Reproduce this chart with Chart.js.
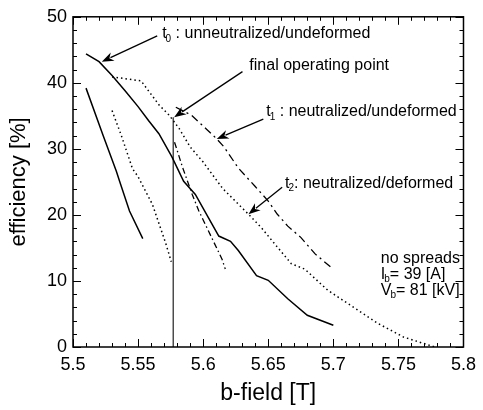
<!DOCTYPE html>
<html><head><meta charset="utf-8">
<script src="https://cdn.jsdelivr.net/npm/chart.js@4.4.1/dist/chart.umd.min.js"></script>
<style>html,body{margin:0;padding:0;background:#fff}#wrap{width:483px;height:410px;position:relative}</style>
</head><body><div id="wrap"><canvas id="c" width="483" height="410"></canvas></div>
<script>
// ---- data ----
const xTickValues = [5.5, 5.55, 5.6, 5.65, 5.7, 5.75, 5.8];
const xTickLabels = ['5.5', '5.55', '5.6', '5.65', '5.7', '5.75', '5.8'];
const yTickValues = [0, 10, 20, 30, 40, 50];
const yTickLabels = ['0', '10', '20', '30', '40', '50'];

// t0 : unneutralized/undeformed (solid, long)
const t0B   = [5.51, 5.52, 5.53, 5.54, 5.55, 5.558, 5.566, 5.576, 5.585, 5.594, 5.604, 5.612, 5.621, 5.627, 5.641, 5.65, 5.665, 5.68, 5.7];
const t0Eff = [44.4, 43.2, 41.1, 38.8, 36.4, 34.3, 32.3, 28.8, 25.1, 23.1, 19.6, 16.8, 16.0, 14.6, 10.8, 10.1, 7.3, 4.8, 3.3];

// t1 : neutralized/undeformed (dash-dot)
const t1B   = [5.579, 5.591, 5.603, 5.610, 5.616, 5.627, 5.64, 5.65, 5.657, 5.665, 5.675, 5.686, 5.698];
const t1Eff = [36.3, 35.1, 32.9, 31.6, 30.3, 27.1, 24.3, 22.1, 20.1, 18.3, 16.6, 14.1, 12.1];

// t2 : neutralized/deformed (dotted, long)
const t2B   = [5.530, 5.5523, 5.5663, 5.5739, 5.5815, 5.59, 5.60, 5.615, 5.6348, 5.645, 5.655, 5.6678, 5.678, 5.6957, 5.711, 5.734, 5.754, 5.778];
const t2Eff = [40.9, 40.3, 36.6, 35.1, 33.1, 30.3, 28.0, 24.0, 20.1, 18.0, 15.6, 12.6, 11.8, 8.6, 6.6, 3.6, 1.5, 0.0];

// short curves
const solidShortB    = [5.51, 5.523, 5.5333, 5.5358, 5.5434, 5.5536];
const solidShortEff  = [39.2, 32.1, 26.6, 25.1, 20.6, 16.4];
const dottedShortB   = [5.530, 5.537, 5.5457, 5.55, 5.561, 5.5714, 5.5755];
const dottedShortEff = [35.8, 32.1, 27.0, 25.8, 21.6, 15.6, 12.9];
const dashShortB     = [5.578, 5.580, 5.584, 5.5916, 5.5967, 5.604, 5.6145, 5.617];
const dashShortEff   = [31.0, 29.8, 27.3, 23.1, 20.6, 17.6, 13.3, 11.8];

// final operating point (vertical line)
const opB   = [5.577, 5.577];
const opEff = [0, 34.8];

const pts = (xs, ys) => xs.map((x, i) => ({x, y: ys[i]}));

// annotations in data coordinates
const annotations = [
  {parts: [['t'], ['0', 1], [' : unneutralized/undeformed']], at: [5.5685, 47.4], from: [5.5647, 47.1], to: [5.5221, 43.2]},
  {parts: [['final operating point']], at: [5.6355, 42.6], from: [5.6302, 41.7], to: [5.5777, 34.8]},
  {parts: [['t'], ['1', 1], [' : neutralized/undeformed']], at: [5.6485, 35.6], from: [5.6462, 34.5], to: [5.6104, 31.5]},
  {parts: [['t'], ['2', 1], [': neutralized/deformed']], at: [5.6629, 24.8], from: [5.6607, 24.2], to: [5.6348, 20.1]},
  {parts: [['no spreads']], at: [5.7365, 13.4]},
  {parts: [['I'], ['b', 1], ['= 39 [A]']], at: [5.7365, 11.0]},
  {parts: [['V'], ['b', 1], ['= 81 [kV]']], at: [5.7365, 8.6]}
];

const FONT = '"Liberation Sans", Arial, Helvetica, sans-serif';

const framePlugin = {
  id: 'frame',
  afterDatasetsDraw(chart) {
    const {ctx, chartArea: a, scales: {x, y}} = chart;
    ctx.save();
    ctx.strokeStyle = '#000';
    ctx.lineWidth = 1.5;
    ctx.strokeRect(a.left, a.top, a.right - a.left, a.bottom - a.top);
    ctx.lineWidth = 1;
    // x ticks (inward, bottom and top)
    for (let i = 0; i <= 30; i++) {
      const v = 5.5 + i * 0.01;
      const px = Math.round(x.getPixelForValue(v)) + 0.5;
      const len = i % 5 === 0 ? 8 : 4;
      ctx.beginPath();
      ctx.moveTo(px, a.bottom); ctx.lineTo(px, a.bottom - len);
      ctx.moveTo(px, a.top); ctx.lineTo(px, a.top + len);
      ctx.stroke();
    }
    // y ticks (inward, left and right)
    for (let i = 0; i <= 25; i++) {
      const v = i * 2;
      const py = Math.round(y.getPixelForValue(v)) + 0.5;
      const len = i % 5 === 0 ? 8 : 4;
      ctx.beginPath();
      ctx.moveTo(a.left, py); ctx.lineTo(a.left + len, py);
      ctx.moveTo(a.right, py); ctx.lineTo(a.right - len, py);
      ctx.stroke();
    }
    // annotations
    ctx.fillStyle = '#000';
    ctx.textBaseline = 'middle';
    ctx.textAlign = 'left';
    for (const an of annotations) {
      let px = x.getPixelForValue(an.at[0]);
      const py = y.getPixelForValue(an.at[1]);
      for (const [t, sub] of an.parts) {
        if (sub) {
          ctx.font = '10px ' + FONT;
          ctx.fillText(t, px - 1, py + 5);
          px += ctx.measureText(t).width - 1;
        } else {
          ctx.font = '16px ' + FONT;
          ctx.fillText(t, px, py);
          px += ctx.measureText(t).width;
        }
      }
      if (an.from) {
        const x0 = x.getPixelForValue(an.from[0]), y0 = y.getPixelForValue(an.from[1]);
        const x1 = x.getPixelForValue(an.to[0]), y1 = y.getPixelForValue(an.to[1]);
        const ang = Math.atan2(y1 - y0, x1 - x0);
        const hl = 12, hw = 4.5;
        ctx.lineWidth = 1.3;
        ctx.beginPath();
        ctx.moveTo(x0, y0);
        ctx.lineTo(x1 - Math.cos(ang) * hl * 0.8, y1 - Math.sin(ang) * hl * 0.8);
        ctx.stroke();
        ctx.beginPath();
        ctx.moveTo(x1, y1);
        ctx.lineTo(x1 - Math.cos(ang) * hl - Math.sin(ang) * hw, y1 - Math.sin(ang) * hl + Math.cos(ang) * hw);
        ctx.lineTo(x1 - Math.cos(ang) * hl * 0.7, y1 - Math.sin(ang) * hl * 0.7);
        ctx.lineTo(x1 - Math.cos(ang) * hl + Math.sin(ang) * hw, y1 - Math.sin(ang) * hl - Math.cos(ang) * hw);
        ctx.closePath();
        ctx.fill();
      }
    }
    ctx.restore();
  }
};

const base = {borderColor: '#000', pointRadius: 0, tension: 0, fill: false, borderWidth: 1.5};

new Chart(document.getElementById('c'), {
  type: 'line',
  data: {
    datasets: [
      {...base, label: 't0', data: pts(t0B, t0Eff)},
      {...base, label: 't1', data: pts(t1B, t1Eff), borderDash: [8, 4, 2, 4], borderWidth: 1.3},
      {...base, label: 't2', data: pts(t2B, t2Eff), borderDash: [1.5, 3], borderWidth: 1.5},
      {...base, label: 'solid short', data: pts(solidShortB, solidShortEff)},
      {...base, label: 'dotted short', data: pts(dottedShortB, dottedShortEff), borderDash: [1.5, 3]},
      {...base, label: 'dash short', data: pts(dashShortB, dashShortEff), borderDash: [6, 3, 1.5, 3], borderWidth: 1.3},
      {...base, label: 'operating point', data: pts(opB, opEff), borderWidth: 1.3, borderColor: '#333'}
    ]
  },
  options: {
    responsive: false,
    devicePixelRatio: 1,
    animation: false,
    events: [],
    layout: {padding: {top: 14, right: 16, left: 0, bottom: 0}},
    plugins: {legend: {display: false}, tooltip: {enabled: false}},
    scales: {
      x: {
        type: 'linear', min: 5.5, max: 5.8,
        afterBuildTicks: s => { s.ticks = xTickValues.map(v => ({value: v})); },
        afterFit: s => { s.height = 63; },
        grid: {display: false, drawTicks: false, tickLength: 0}, border: {display: false},
        ticks: {color: '#000', padding: 7, maxRotation: 0, autoSkip: false,
          font: {family: FONT, size: 18},
          callback: (v) => { const i = xTickValues.findIndex(t => Math.abs(t - v) < 1e-6); return i >= 0 ? xTickLabels[i] : ''; }},
        title: {display: true, text: 'b-field [T]', color: '#000', font: {family: FONT, size: 23}, padding: {top: 4, bottom: 3}}
      },
      y: {
        type: 'linear', min: 0, max: 50,
        afterBuildTicks: s => { s.ticks = yTickValues.map(v => ({value: v})); },
        afterFit: s => { s.width = 73; },
        grid: {display: false, drawTicks: false, tickLength: 0}, border: {display: false},
        ticks: {color: '#000', padding: 6,
          font: {family: FONT, size: 18},
          callback: (v) => { const i = yTickValues.indexOf(v); return i >= 0 ? yTickLabels[i] : ''; }},
        title: {display: true, text: 'efficiency [%]', color: '#000', font: {family: FONT, size: 22}, padding: {top: 6, bottom: 4}}
      }
    }
  },
  plugins: [framePlugin]
});
</script></body></html>
